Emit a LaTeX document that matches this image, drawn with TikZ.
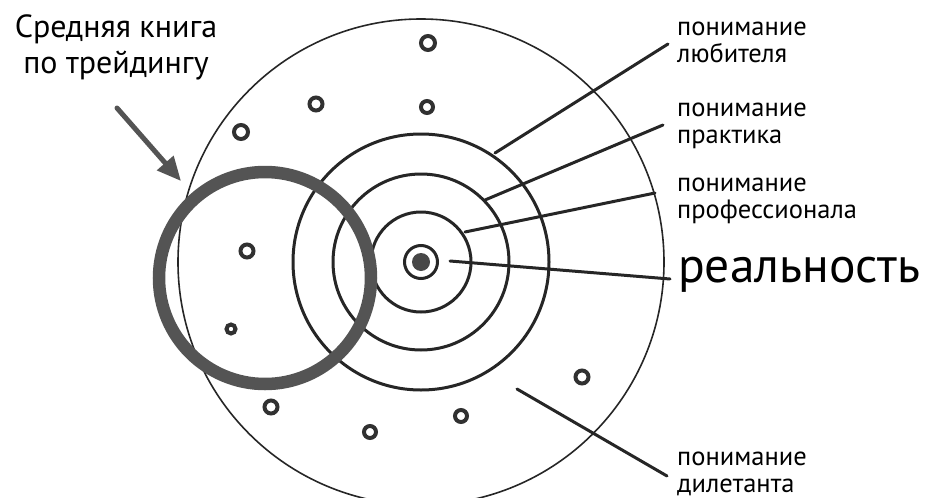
\documentclass[tikz,border=0pt]{standalone}
\usepackage{fontspec}
\setmainfont{PT Sans}
\usetikzlibrary{arrows.meta}
\definecolor{bookgray}{HTML}{545454}
\definecolor{inkgray}{HTML}{262626}
\begin{document}
\begin{tikzpicture}[x=1pt, y=-1pt, line cap=round,
  orbit/.style={line width=3pt, draw=inkgray},
  speck/.style={line width=4pt, draw=inkgray!95},
  pointer/.style={line width=3pt, draw=inkgray},
  lbl/.style={font=\fontsize{26.5}{26.5}\selectfont, align=left, anchor=base west, inner sep=0pt}]
\def\cx{421}
\def\cy{262}
\useasboundingbox (0,0) rectangle (927,498);
% Outer circle (dilettante)
\draw[line width=1.6pt, draw=inkgray] (\cx,\cy) circle[radius=243];
% Concentric circles
\foreach \r in {128,88,50}
  \draw[orbit] (\cx,\cy) circle[radius=\r];
% Reality core
\draw[orbit] (\cx,\cy) circle[radius=16.5];
\fill[inkgray!85] (\cx,\cy) circle[radius=9];
% Small specks
\foreach \px/\py/\r in {428/43/7, 241/132/7, 316/104/6.5, 427/107/6, 247/251/6.5,
    231/329/4.5, 271/407/6.5, 370/432/6, 461/416/6, 582/377/6.5}
  \draw[speck] (\px,\py) circle[radius=\r];
% Average trading book
\draw[line width=12.5pt, draw=bookgray] (265,278) circle[radius=106];
\node[font=\fontsize{32}{36}\selectfont, align=center, anchor=base, inner sep=0pt]
  (book) at (116,73) {Средняя книга\\по трейдингу};
\coordinate (bookTail) at (117,108);
\coordinate (bookTip) at (181,181);
\draw[line width=5pt, draw=bookgray, -{Triangle[length=24pt,width=21pt]}] (bookTail) -- (bookTip);
% Labels (base anchor sits on the last line)
\node[lbl] (amateur) at (677,62) {понимание\\любителя};
\node[lbl] (practice) at (677,143) {понимание\\практика};
\node[lbl] (pro) at (677,218) {понимание\\профессионала};
\node[lbl, font=\fontsize{49.5}{50}\selectfont] (reality) at (678,282) {реальность};
\node[lbl] (dilettante) at (677,492) {понимание\\дилетанта};
% Connectors
\coordinate (amIn) at (495,153);
\coordinate (prIn) at (485,200);
\coordinate (proIn) at (465,232);
\coordinate (reIn) at (450,261);
\coordinate (diIn) at (517,389);
\draw[pointer] (amIn) -- ([xshift=-9pt,yshift=18pt]amateur.base west);
\draw[pointer] (prIn) -- ([xshift=-14pt,yshift=18pt]practice.base west);
\draw[pointer] (proIn) -- ([xshift=-22pt,yshift=25pt]pro.base west);
\draw[pointer] (reIn) -- ([xshift=-8pt,yshift=3pt]reality.base west);
\draw[pointer] (diIn) -- ([xshift=-10pt,yshift=16pt]dilettante.base west);
\end{tikzpicture}
\end{document}
